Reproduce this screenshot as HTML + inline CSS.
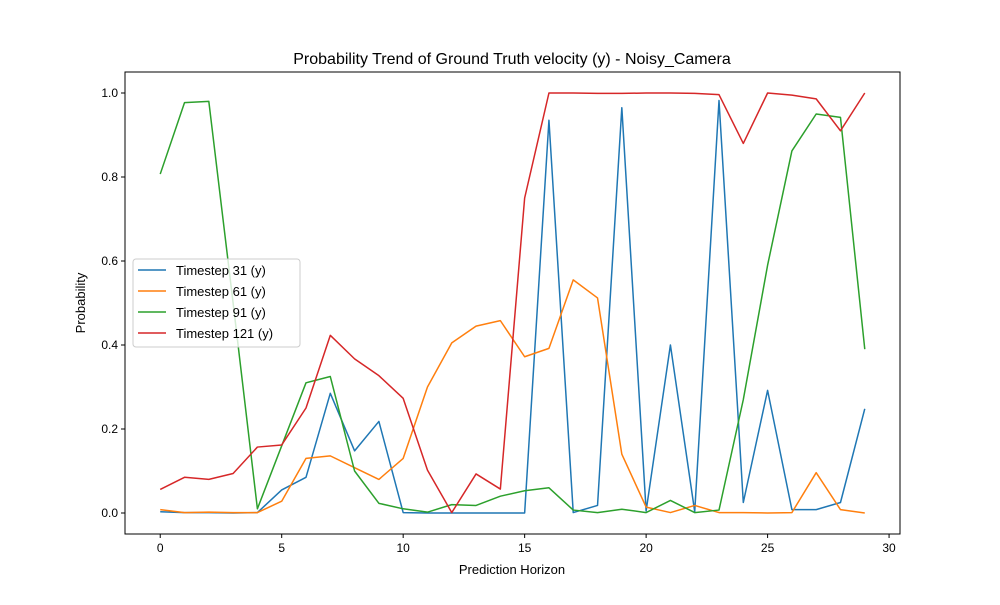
<!DOCTYPE html>
<html><head><meta charset="utf-8"><style>
body{margin:0;background:#fff;}
text{font-family:"Liberation Sans","DejaVu Sans",sans-serif;}
</style></head><body>
<svg id="chart" width="1000" height="600" xmlns="http://www.w3.org/2000/svg">
<rect width="1000" height="600" fill="#fff"/>
<text x="512" y="64" font-size="16" text-anchor="middle">Probability Trend of Ground Truth velocity (y) - Noisy_Camera</text>
<g id="grid"></g>
<g id="lines"></g>
<rect x="125" y="72" width="775" height="462" fill="none" stroke="#000" stroke-width="1"/>
<text x="512" y="574" font-size="13" text-anchor="middle">Prediction Horizon</text>
<text x="0" y="0" font-size="13" text-anchor="middle" transform="translate(85,303) rotate(-90)">Probability</text>
<g id="legend"></g>
</svg>
<script>
const xTicks=[0,5,10,15,20,25,30];
const yTicks=[0,0.2,0.4,0.6,0.8,1.0];
const yTickLabels=["0.0","0.2","0.4","0.6","0.8","1.0"];
const seriesNames=["Timestep 31 (y)","Timestep 61 (y)","Timestep 91 (y)","Timestep 121 (y)"];
const colors=["#1f77b4","#ff7f0e","#2ca02c","#d62728"];
const t31=[0.003,0.001,0.001,0,0.001,0.055,0.085,0.285,0.148,0.218,0.001,0,0,0,0,0,0.935,0.001,0.018,0.965,0.005,0.4,0.003,0.982,0.025,0.292,0.008,0.008,0.025,0.248];
const t61=[0.008,0.001,0.002,0.001,0.001,0.028,0.13,0.136,0.108,0.08,0.13,0.3,0.405,0.445,0.458,0.372,0.392,0.555,0.512,0.14,0.014,0.001,0.018,0.001,0.001,0,0.001,0.096,0.008,0];
const t91=[0.807,0.977,0.98,0.5,0.01,0.16,0.31,0.325,0.1,0.023,0.01,0.002,0.02,0.018,0.04,0.053,0.06,0.007,0.001,0.009,0.001,0.03,0.001,0.007,0.27,0.59,0.862,0.95,0.942,0.39];
const t121=[0.056,0.085,0.08,0.094,0.157,0.162,0.25,0.423,0.367,0.327,0.273,0.102,0.001,0.093,0.057,0.75,1.0,1.0,0.999,0.999,1.0,1.0,0.999,0.996,0.88,1.0,0.995,0.986,0.91,1.0];
const allSeries=[t31,t61,t91,t121];
const NS="http://www.w3.org/2000/svg";
const X0=125,X1=900,Y0=72,Y1=534,xmin=-1.45,xmax=30.45,ymin=-0.05,ymax=1.05;
const xs=v=>X0+(v-xmin)/(xmax-xmin)*(X1-X0);
const ys=v=>Y1-(v-ymin)/(ymax-ymin)*(Y1-Y0);
function mk(t,a,p){const e=document.createElementNS(NS,t);for(const k in a)e.setAttribute(k,a[k]);p.appendChild(e);return e;}
const g=document.getElementById('grid');
xTicks.forEach(v=>{const x=xs(v);
 const l=mk('line',{x1:x,x2:x,y1:Y1,y2:Y1+4,stroke:'#000'},g);
 
 
 const t=mk('text',{x:x,y:Y1+18,'font-size':12,'text-anchor':'middle'},g);t.textContent=v;
 
 });
yTicks.forEach((v,i)=>{const y=ys(v);
 const l=mk('line',{x1:X0-4,x2:X0,y1:y,y2:y,stroke:'#000'},g);
 
 
 const t=mk('text',{x:X0-7,y:y+4,'font-size':12,'text-anchor':'end'},g);t.textContent=yTickLabels[i];
 
 });
const lg=document.getElementById('lines');
allSeries.forEach((s,i)=>{
 const p=mk('polyline',{points:s.map((v,j)=>xs(j)+','+ys(v)).join(' '),fill:'none',stroke:colors[i],'stroke-width':1.5,'stroke-linejoin':'round'},lg);
 
 });
const leg=document.getElementById('legend');
const bx=mk('rect',{x:133,y:259,width:167,height:88,rx:3,fill:'#fff','fill-opacity':0.8,stroke:'#ccc'},leg);


seriesNames.forEach((n,i)=>{const y=270+i*21;
 const l=mk('line',{x1:138,x2:166,y1:y,y2:y,stroke:colors[i],'stroke-width':1.5},leg);
 
 
 const t=mk('text',{x:176,y:y+5,'font-size':13},leg);t.textContent=n;
 
 });
</script>
</body></html>
